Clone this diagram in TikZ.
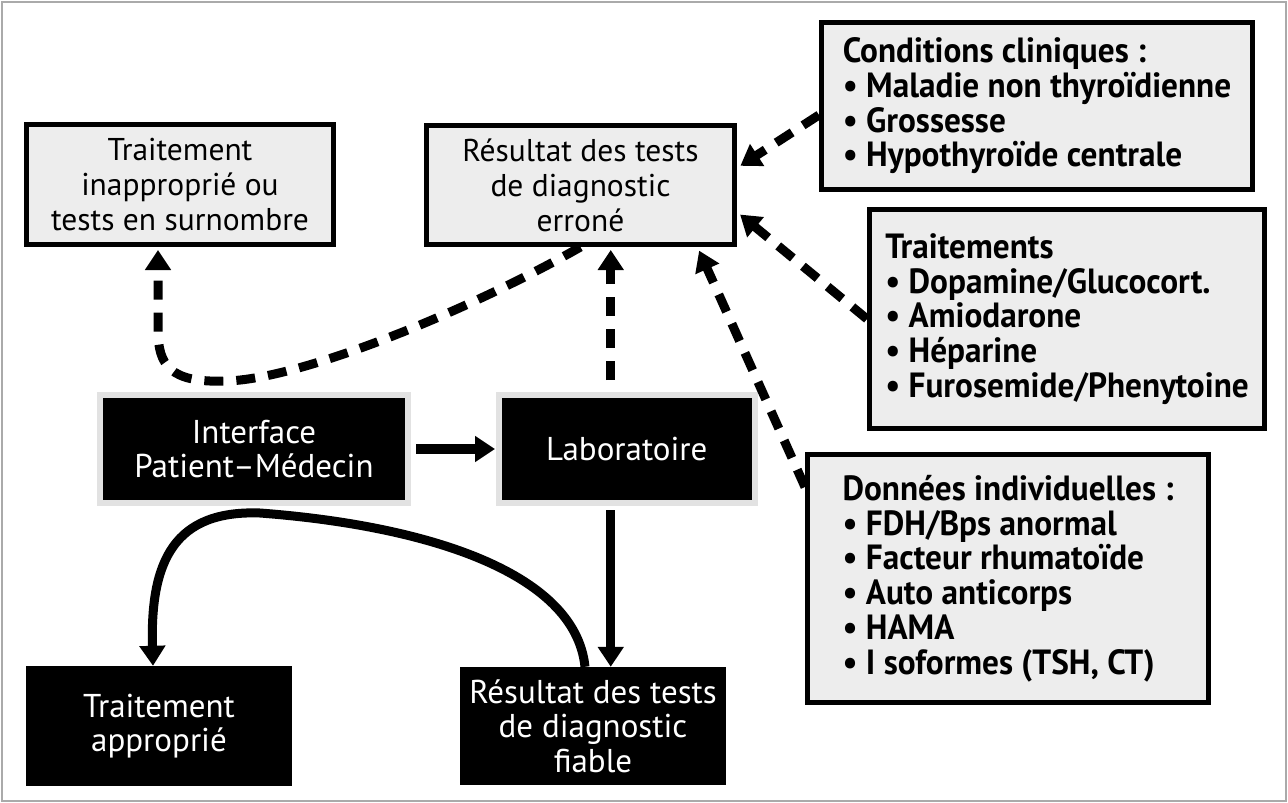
\documentclass[tikz,border=0pt]{standalone}
\usepackage{fontspec}
\setmainfont{PT Sans}
\newfontfamily\listfont[FakeStretch=0.95]{PT Sans}
\usepackage{tikz}
\usetikzlibrary{arrows.meta,positioning,calc}
\definecolor{boxgray}{HTML}{EDEDED}
\definecolor{rimgray}{HTML}{E2E2E2}
\definecolor{framegray}{HTML}{AAAAAA}

\begin{document}
\begin{tikzpicture}[x=1pt,y=-1pt,
  >={Triangle[length=20pt,width=25pt]},
  greybox/.style={draw=black,line width=5pt,fill=boxgray,align=center,inner sep=0pt,
    font=\fontsize{31.5}{35}\selectfont},
  listbox/.style={draw=black,line width=5pt,fill=boxgray,align=left,inner sep=0pt,
    font=\fontsize{35}{34.7}\listfont\bfseries},
  blackbox/.style={fill=black,text=white,align=center,inner sep=0pt,
    font=\fontsize{33}{34.5}\selectfont},
  rimbox/.style={blackbox,draw=rimgray,line width=6pt},
  solidarrow/.style={->,line width=9pt},
  dasharrow/.style={->,line width=9pt,dash pattern=on 19pt off 13pt}]
  \useasboundingbox (0,0) rectangle (1288,803);
  % Frame
  \draw[framegray,line width=2pt] (2,2) rectangle (1286,801);

  % Grey boxes
  \node[greybox,minimum width=307pt,minimum height=120pt] (inapp) at (180,184.5)
    {Traitement\\inapproprié ou\\tests en surnombre};
  \node[greybox,minimum width=308pt,minimum height=119pt] (erron) at (580.5,185)
    {Résultat des tests\\de diagnostic\\erroné};

  % Lists on the right
  \node[listbox,minimum width=431pt,minimum height=167pt] (cond) at (1037,106)
    {Conditions cliniques :\\• Maladie non thyroïdienne\\• Grossesse\\• Hypothyroïde centrale};
  \node[listbox,minimum width=395pt,minimum height=219pt] (trait) at (1067,319)
    {Traitements\\• Dopamine/Glucocort.\\• Amiodarone\\• Héparine\\• Furosemide/Phenytoine};
  \node[listbox,minimum width=401pt,minimum height=248pt] (donn) at (1008,578.5)
    {Données individuelles :\\• FDH/Bps anormal\\• Facteur rhumatoïde\\• Auto anticorps\\• HAMA\\• I soformes (TSH, CT)};

  % Black boxes
  \node[rimbox,minimum width=308pt,minimum height=108pt] (iface) at (254,449)
    {Interface\\Patient–Médecin};
  \node[rimbox,minimum width=255.5pt,minimum height=108pt] (labo) at (626.75,449)
    {Laboratoire};
  \node[blackbox,minimum width=266pt,minimum height=120pt] (appro) at (159,726)
    {Traitement\\approprié};
  \node[blackbox,minimum width=266pt,minimum height=118pt] (fiable) at (593,726)
    {Résultat des tests\\de diagnostic\\fiable};

  % Solid arrows
  \draw[solidarrow,line width=10pt,shorten <=5pt,shorten >=1pt] (iface) -- (labo);
  \coordinate (labbot) at ([xshift=-16pt]labo.south);
  \draw[solidarrow,shorten <=4pt] (labbot) -- (labbot |- fiable.north);
  \draw[solidarrow] ([xshift=-8pt]fiable.north) .. controls (575,570) and (420,525) .. (260,513)
    .. controls (175,510) and (150,560) .. ([xshift=-6pt]appro.north);

  % Dashed arrows
  \coordinate (labtop) at ([xshift=-16pt,yshift=12pt]labo.north);
  \draw[dasharrow,shorten >=3pt] (labtop) -- (labtop |- erron.south);
  \draw[dasharrow,shorten >=3pt] (erron.south) .. controls (470,310) and (300,380) .. (225,381)
    .. controls (170,383) and (158,365) .. (158,330) -- ([xshift=-22pt]inapp.south);
  \draw[dasharrow,shorten >=4pt] ([yshift=-9pt]cond.west) -- ([yshift=17pt]erron.east);
  \draw[dasharrow,shorten >=4pt] (trait.west) -- ([yshift=-27pt]erron.east);
  \draw[dasharrow,shorten >=4pt] ([yshift=-35pt]donn.north west) -- ([xshift=117pt]erron.south);
\end{tikzpicture}
\end{document}
